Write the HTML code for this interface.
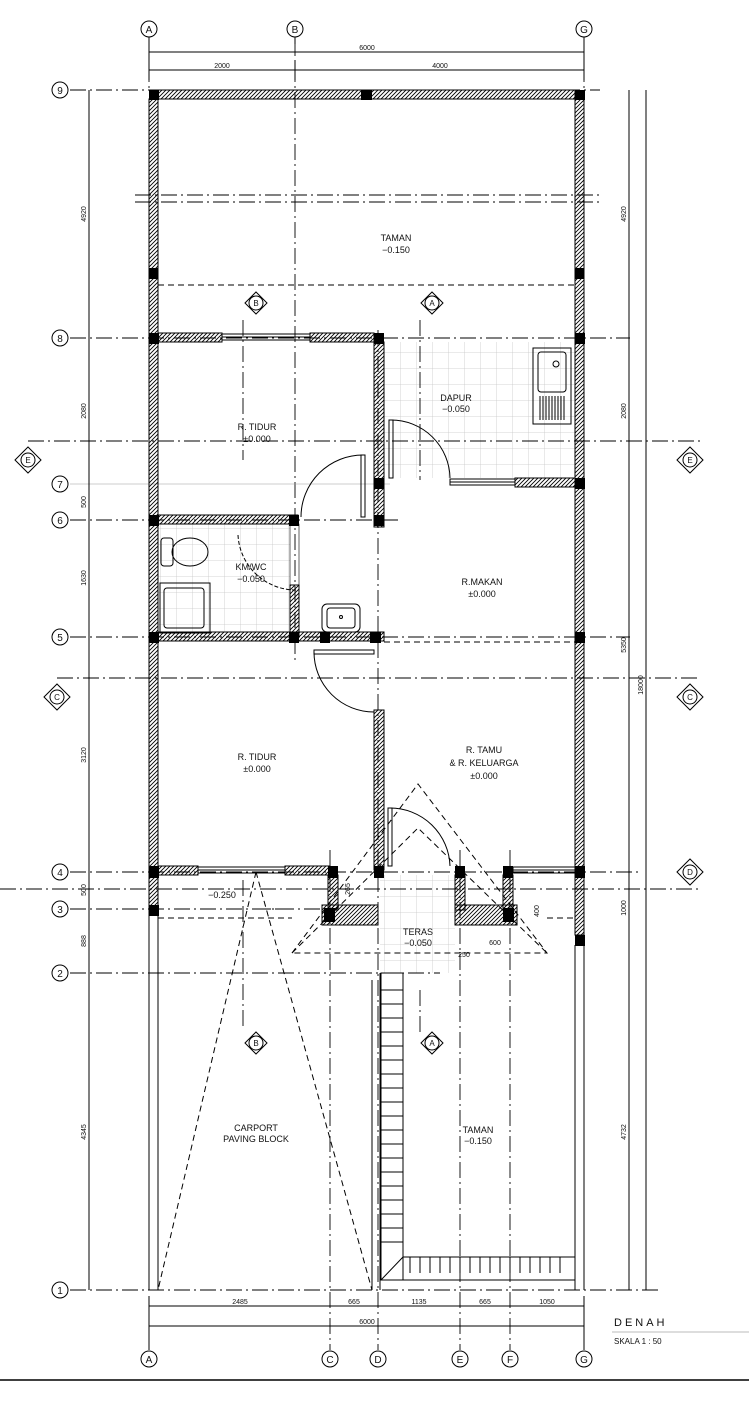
<!DOCTYPE html>
<html><head><meta charset="utf-8"><style>
html,body{margin:0;padding:0;background:#fff}
svg{display:block}
text{font-family:"Liberation Sans",sans-serif;fill:#111}
</style></head><body>
<svg width="749" height="1401" viewBox="0 0 749 1401" xmlns="http://www.w3.org/2000/svg">
<defs>
<pattern id="h" patternUnits="userSpaceOnUse" width="4" height="4">
<path d="M-1,5 L5,-1 M-1,1 L1,-1 M3,5 L5,3" stroke="#000" stroke-width="0.9"/>
</pattern>
<pattern id="tile" patternUnits="userSpaceOnUse" width="16" height="16">
<path d="M0,0 H16 M0,0 V16" stroke="#c8c8c8" stroke-width="0.8" fill="none"/>
</pattern>
</defs>

<!-- tiles -->
<rect x="384" y="342" width="191" height="136" fill="url(#tile)"/>
<rect x="158" y="524" width="132" height="108" fill="url(#tile)"/>
<rect x="380" y="875" width="75" height="98" fill="url(#tile)"/>

<g stroke="#000" stroke-width="1" fill="none">
<!-- grid dash-dot lines -->
<g stroke-dasharray="16,4,2,4" stroke-width="0.9">
<line x1="295" y1="40" x2="295" y2="660"/>
<line x1="149" y1="40" x2="149" y2="90"/>
<line x1="584" y1="40" x2="584" y2="90"/>
<line x1="330" y1="850" x2="330" y2="1350"/>
<line x1="378" y1="330" x2="378" y2="1350"/>
<line x1="460" y1="850" x2="460" y2="1350"/>
<line x1="510" y1="850" x2="510" y2="1350"/>
<line x1="70" y1="90" x2="600" y2="90"/>
<line x1="70" y1="338" x2="630" y2="338"/>
<line x1="70" y1="520" x2="400" y2="520"/>
<line x1="70" y1="637" x2="630" y2="637"/>
<line x1="70" y1="872" x2="640" y2="872"/>
<line x1="70" y1="909" x2="330" y2="909"/>
<line x1="70" y1="973" x2="440" y2="973"/>
<line x1="70" y1="1290" x2="660" y2="1290"/>
<line x1="28" y1="441" x2="700" y2="441"/>
<line x1="57" y1="678" x2="700" y2="678"/>
<line x1="0" y1="889" x2="700" y2="889"/>
<line x1="135" y1="195" x2="600" y2="195"/>
<line x1="135" y1="202" x2="600" y2="202"/>
<line x1="243" y1="320" x2="243" y2="460"/>
<line x1="420" y1="320" x2="420" y2="480"/>
<line x1="243" y1="880" x2="243" y2="1030"/>
<line x1="420" y1="990" x2="420" y2="1035"/>
</g>
<line x1="70" y1="484" x2="390" y2="484" stroke="#999" stroke-width="0.6"/>
<!-- dashed -->
<g stroke-dasharray="6,4">
<line x1="158" y1="285" x2="575" y2="285"/>
<line x1="384" y1="642" x2="575" y2="642"/>
<polyline points="292,953 418,784 547,953 292,953"/>
<polyline points="292,953 418,828 547,953"/>
<line x1="158" y1="918" x2="292" y2="918"/>
<line x1="255" y1="909" x2="292" y2="909"/>
<line x1="547" y1="918" x2="575" y2="918"/>
<line x1="256" y1="872" x2="158" y2="1290"/>
<line x1="256" y1="872" x2="372" y2="1290"/>
</g>

<!-- dimension lines -->
<line x1="149" y1="52" x2="584" y2="52"/>
<line x1="149" y1="70" x2="584" y2="70"/>
<line x1="149" y1="40" x2="149" y2="80"/>
<line x1="295" y1="60" x2="295" y2="80"/>
<line x1="584" y1="40" x2="584" y2="80"/>
<line x1="89" y1="90" x2="89" y2="1290"/>
<line x1="629" y1="90" x2="629" y2="1290"/>
<line x1="646" y1="90" x2="646" y2="1290"/>
<line x1="149" y1="1306" x2="584" y2="1306"/>
<line x1="149" y1="1326" x2="584" y2="1326"/>
<line x1="149" y1="1296" x2="149" y2="1350"/>
<line x1="584" y1="1296" x2="584" y2="1350"/>

<!-- lower outer thin walls -->
<line x1="149" y1="915" x2="149" y2="1290"/>
<line x1="158" y1="915" x2="158" y2="1290"/>
<line x1="575" y1="945" x2="575" y2="1290"/>
<line x1="584" y1="945" x2="584" y2="1290"/>
<line x1="372" y1="980" x2="372" y2="1290"/>
<line x1="380" y1="973" x2="380" y2="1290"/>
<!-- planter -->
<rect x="381" y="973" width="22" height="307"/>
<rect x="403" y="1257" width="172" height="23"/>
<line x1="381" y1="1280" x2="403" y2="1257"/>
<path d="M381,990 h22 M381,1004 h22 M381,1018 h22 M381,1032 h22 M381,1046 h22 M381,1060 h22 M381,1074 h22 M381,1088 h22 M381,1102 h22 M381,1116 h22 M381,1130 h22 M381,1144 h22 M381,1158 h22 M381,1172 h22 M381,1186 h22 M381,1200 h22 M381,1214 h22 M381,1228 h22 M381,1242 h22"/>
<path d="M410,1257 v16 M420,1257 v16 M430,1257 v16 M440,1257 v16 M450,1257 v16 M460,1257 v16 M470,1257 v16 M480,1257 v16 M490,1257 v16 M500,1257 v16 M510,1257 v16 M520,1257 v16 M530,1257 v16 M540,1257 v16 M550,1257 v16 M560,1257 v16"/>

<!-- walls hatched -->
<g fill="url(#h)">
<rect x="158" y="90" width="417" height="9"/>
<rect x="149" y="99" width="9" height="816"/>
<rect x="575" y="99" width="9" height="836"/>
<rect x="158" y="333" width="64" height="9"/>
<rect x="310" y="333" width="64" height="9"/>
<rect x="374" y="342" width="10" height="185"/>
<rect x="515" y="478" width="60" height="9"/>
<rect x="158" y="515" width="140" height="9"/>
<rect x="290" y="585" width="9" height="52"/>
<rect x="158" y="632" width="226" height="9"/>
<rect x="374" y="710" width="10" height="160"/>
<rect x="158" y="866" width="40" height="9"/>
<rect x="285" y="866" width="45" height="9"/>
<rect x="328" y="875" width="10" height="35"/>
<rect x="455" y="875" width="10" height="35"/>
<rect x="503" y="875" width="10" height="35"/>
<rect x="322" y="905" width="56" height="20"/>
<rect x="455" y="905" width="62" height="20"/>
</g>
<!-- windows -->
<rect x="222" y="334" width="88" height="6"/>
<line x1="222" y1="337" x2="310" y2="337"/>
<rect x="450" y="479" width="65" height="6"/>
<line x1="450" y1="482" x2="515" y2="482"/>
<rect x="198" y="867" width="87" height="6"/>
<line x1="198" y1="870" x2="285" y2="870"/>
<rect x="513" y="867" width="62" height="6"/>
<line x1="513" y1="870" x2="575" y2="870"/>
<rect x="290" y="524" width="9" height="61" stroke-width="0.6"/>

<!-- doors -->
<rect x="361" y="455" width="4" height="62"/>
<path d="M363,455 A62,62 0 0 0 301,517"/>
<rect x="389" y="420" width="4" height="58"/>
<path d="M391,420 A59,59 0 0 1 450,478"/>
<rect x="314" y="650" width="60" height="4"/>
<path d="M314,652 A60,60 0 0 0 374,712"/>
<rect x="388" y="808" width="4" height="58"/>
<path d="M390,808 A60,60 0 0 1 450,866"/>
<path d="M238,535 A58,58 0 0 0 297,590" stroke-dasharray="4,2"/>

<!-- fixtures -->
<rect x="533" y="348" width="38" height="76"/>
<rect x="538" y="352" width="28" height="40" rx="3"/>
<circle cx="556" cy="364" r="3"/>
<path d="M540,396 v24 M543,396 v24 M546,396 v24 M549,396 v24 M552,396 v24 M555,396 v24 M558,396 v24 M561,396 v24 M564,396 v24"/>
<rect x="161" y="538" width="12" height="28" rx="3"/>
<ellipse cx="190" cy="552" rx="18" ry="14"/>
<rect x="160" y="583" width="50" height="50"/>
<rect x="164" y="588" width="40" height="40" rx="3"/>
<rect x="322" y="604" width="38" height="28" rx="5"/>
<rect x="327" y="608" width="28" height="20" rx="3"/>
<circle cx="341" cy="617" r="1.5"/>
</g>

<!-- columns -->
<g fill="#000">
<rect x="149" y="90" width="10" height="10"/><rect x="575" y="90" width="10" height="10"/>
<rect x="361" y="90" width="11" height="10"/>
<rect x="149" y="268" width="9" height="11"/><rect x="575" y="268" width="9" height="11"/>
<rect x="149" y="333" width="10" height="11"/><rect x="374" y="333" width="10" height="11"/><rect x="575" y="333" width="10" height="11"/>
<rect x="374" y="478" width="10" height="11"/><rect x="575" y="478" width="10" height="11"/>
<rect x="149" y="515" width="10" height="11"/><rect x="289" y="515" width="10" height="11"/><rect x="374" y="515" width="10" height="11"/>
<rect x="149" y="632" width="10" height="11"/><rect x="289" y="632" width="10" height="11"/><rect x="320" y="632" width="10" height="11"/><rect x="370" y="632" width="11" height="11"/><rect x="575" y="632" width="10" height="11"/>
<rect x="149" y="866" width="10" height="12"/><rect x="328" y="866" width="10" height="12"/><rect x="374" y="866" width="10" height="12"/><rect x="455" y="866" width="10" height="12"/><rect x="503" y="866" width="10" height="12"/><rect x="575" y="866" width="10" height="12"/>
<rect x="149" y="905" width="10" height="11"/><rect x="324" y="908" width="11" height="14"/><rect x="503" y="908" width="11" height="14"/>
<rect x="575" y="935" width="10" height="11"/>
</g>

<!-- grid bubbles -->
<g stroke="#000" stroke-width="1" fill="#fff">
<circle cx="149" cy="29" r="8"/><circle cx="295" cy="29" r="8"/><circle cx="584" cy="29" r="8"/>
<circle cx="149" cy="1359" r="8"/><circle cx="330" cy="1359" r="8"/><circle cx="378" cy="1359" r="8"/><circle cx="460" cy="1359" r="8"/><circle cx="510" cy="1359" r="8"/><circle cx="584" cy="1359" r="8"/>
<circle cx="60" cy="90" r="8"/><circle cx="60" cy="338" r="8"/><circle cx="60" cy="484" r="8"/><circle cx="60" cy="520" r="8"/><circle cx="60" cy="637" r="8"/><circle cx="60" cy="872" r="8"/><circle cx="60" cy="909" r="8"/><circle cx="60" cy="973" r="8"/><circle cx="60" cy="1290" r="8"/>
<line x1="149" y1="37" x2="149" y2="44"/><line x1="295" y1="37" x2="295" y2="44"/><line x1="584" y1="37" x2="584" y2="44"/>
<!-- section markers -->
<path d="M15,460 L28,447 L41,460 L28,473 Z"/><circle cx="28" cy="460" r="7"/>
<path d="M677,460 L690,447 L703,460 L690,473 Z"/><circle cx="690" cy="460" r="7"/>
<path d="M44,697 L57,684 L70,697 L57,710 Z"/><circle cx="57" cy="697" r="7"/>
<path d="M677,697 L690,684 L703,697 L690,710 Z"/><circle cx="690" cy="697" r="7"/>
<path d="M677,872 L690,859 L703,872 L690,885 Z"/><circle cx="690" cy="872" r="7"/>
<path d="M245,303 L256,292 L267,303 L256,314 Z"/><circle cx="256" cy="303" r="7"/>
<path d="M421,303 L432,292 L443,303 L432,314 Z"/><circle cx="432" cy="303" r="7"/>
<path d="M245,1043 L256,1032 L267,1043 L256,1054 Z"/><circle cx="256" cy="1043" r="7"/>
<path d="M421,1043 L432,1032 L443,1043 L432,1054 Z"/><circle cx="432" cy="1043" r="7"/>
</g>
<line x1="0" y1="1380" x2="749" y2="1380" stroke="#000" stroke-width="1.5"/>
<line x1="612" y1="1332" x2="749" y2="1332" stroke="#bbb" stroke-width="1"/>

<g font-size="10" text-anchor="middle">
<text x="149" y="33">A</text><text x="295" y="33">B</text><text x="584" y="33">G</text>
<text x="149" y="1363">A</text><text x="330" y="1363">C</text><text x="378" y="1363">D</text><text x="460" y="1363">E</text><text x="510" y="1363">F</text><text x="584" y="1363">G</text>
<text x="60" y="94">9</text><text x="60" y="342">8</text><text x="60" y="488">7</text><text x="60" y="524">6</text><text x="60" y="641">5</text><text x="60" y="876">4</text><text x="60" y="913">3</text><text x="60" y="977">2</text><text x="60" y="1294">1</text>
</g>
<g font-size="8" text-anchor="middle">
<text x="28" y="463">E</text><text x="690" y="463">E</text><text x="57" y="700">C</text><text x="690" y="700">C</text><text x="690" y="875">D</text>
<text x="256" y="306">B</text><text x="432" y="306">A</text><text x="256" y="1046">B</text><text x="432" y="1046">A</text>
</g>
<g font-size="7" text-anchor="middle">
<text x="367" y="50">6000</text><text x="222" y="68">2000</text><text x="440" y="68">4000</text>
<text x="240" y="1304">2485</text><text x="354" y="1304">665</text><text x="419" y="1304">1135</text><text x="485" y="1304">665</text><text x="547" y="1304">1050</text>
<text x="367" y="1324">6000</text>
<text transform="translate(86,214) rotate(-90)">4920</text>
<text transform="translate(86,411) rotate(-90)">2080</text>
<text transform="translate(86,502) rotate(-90)">500</text>
<text transform="translate(86,578) rotate(-90)">1630</text>
<text transform="translate(86,755) rotate(-90)">3120</text>
<text transform="translate(86,890) rotate(-90)">500</text>
<text transform="translate(86,941) rotate(-90)">888</text>
<text transform="translate(86,1132) rotate(-90)">4345</text>
<text transform="translate(626,214) rotate(-90)">4920</text>
<text transform="translate(626,411) rotate(-90)">2080</text>
<text transform="translate(626,645) rotate(-90)">5350</text>
<text transform="translate(626,908) rotate(-90)">1000</text>
<text transform="translate(626,1132) rotate(-90)">4732</text>
<text transform="translate(643,685) rotate(-90)">18000</text>
<text transform="translate(350,889) rotate(-90)">265</text>
<text transform="translate(539,911) rotate(-90)">400</text>
<text x="495" y="945">600</text><text x="464" y="957">250</text>
</g>
<g font-size="9" text-anchor="middle">
<text x="396" y="241">TAMAN</text><text x="396" y="253">−0.150</text>
<text x="456" y="401">DAPUR</text><text x="456" y="412">−0.050</text>
<text x="257" y="430">R. TIDUR</text><text x="257" y="442">±0.000</text>
<text x="251" y="570">KM/WC</text><text x="251" y="582">−0.050</text>
<text x="482" y="585">R.MAKAN</text><text x="482" y="597">±0.000</text>
<text x="257" y="760">R. TIDUR</text><text x="257" y="772">±0.000</text>
<text x="484" y="753">R. TAMU</text><text x="484" y="766">&amp; R. KELUARGA</text><text x="484" y="779">±0.000</text>
<text x="222" y="898">−0.250</text>
<text x="418" y="935">TERAS</text><text x="418" y="946">−0.050</text>
<text x="256" y="1131">CARPORT</text><text x="256" y="1142">PAVING BLOCK</text>
<text x="478" y="1133">TAMAN</text><text x="478" y="1144">−0.150</text>
</g>
<text x="614" y="1326" font-size="11" letter-spacing="3">DENAH</text>
<text x="614" y="1344" font-size="8">SKALA 1 : 50</text>
</svg>
</body></html>
